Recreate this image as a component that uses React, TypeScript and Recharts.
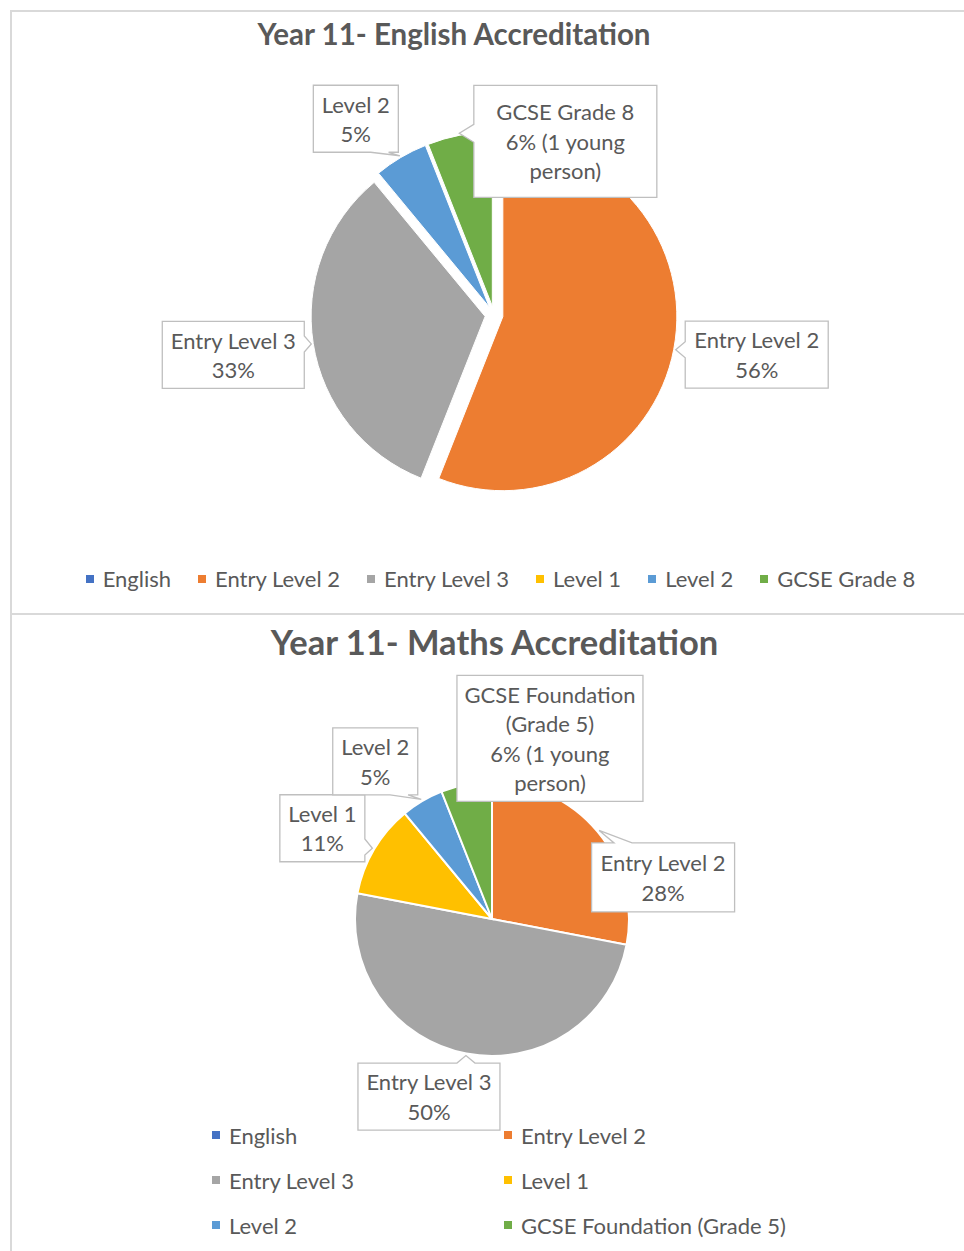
import React from 'react';
import { PieChart, Pie, Cell, Legend } from 'recharts';

// Office default palette, keyed by category
const COLORS: Record<string, string> = {
  English: '#4472C4',
  'Entry Level 2': '#ED7D31',
  'Entry Level 3': '#A5A5A5',
  'Level 1': '#FFC000',
  'Level 2': '#5B9BD5',
  'GCSE Grade 8': '#70AD47',
  'GCSE Foundation (Grade 5)': '#70AD47',
};

const FONT = 'Lato, Carlito, Calibri, "Noto Sans", sans-serif';
const TEXT = '#595959';

// --- English chart data
const ENGLISH_CATEGORIES = ['English', 'Entry Level 2', 'Entry Level 3', 'Level 1', 'Level 2', 'GCSE Grade 8'];
const ENGLISH_VALUES = [0, 56, 33, 0, 5, 6];
const ENGLISH_NOTES = ['', '', '', '', '', '(1 young person)'];

// --- Maths chart data
const MATHS_CATEGORIES = ['English', 'Entry Level 2', 'Entry Level 3', 'Level 1', 'Level 2', 'GCSE Foundation (Grade 5)'];
const MATHS_VALUES = [0, 28, 50, 11, 5, 6];
const MATHS_NOTES = ['', '', '', '', '', '(1 young person)'];

// callout boxes: centre offset from the slice edge point, box size
type Box = { dx: number; dy: number; w: number; h: number };
const ENGLISH_BOXES: Record<string, Box> = {
  'Entry Level 2': { dx: 81, dy: 5, w: 143, h: 67 },
  'Entry Level 3': { dx: -78, dy: 11, w: 142, h: 67 },
  'Level 2': { dx: -44, dy: -37, w: 85, h: 67 },
  'GCSE Grade 8': { dx: 106, dy: 8, w: 183, h: 112 },
};
const MATHS_BOXES: Record<string, Box> = {
  'Entry Level 2': { dx: 64, dy: 47, w: 143, h: 69 },
  'Entry Level 3': { dx: -37, dy: 41, w: 142, h: 67 },
  'Level 1': { dx: -50, dy: -20, w: 85, h: 67 },
  'Level 2': { dx: -46, dy: -38, w: 85, h: 67 },
  'GCSE Foundation (Grade 5)': { dx: 84, dy: -44, w: 186, h: 126 },
};

const RAD = Math.PI / 180;

const buildData = (cats: string[], vals: number[], notes: string[]) =>
  cats.map((name, i) => ({ name, value: vals[i], note: notes[i] }));

// mid angle of each slice, same convention as recharts (start 90, clockwise)
const midAngles = (vals: number[]) => {
  const total = vals.reduce((a, b) => a + b, 0);
  let cum = 0;
  return vals.map((v) => {
    const m = 90 - (360 * (cum + v / 2)) / total;
    cum += v;
    return m;
  });
};

const wrap = (text: string, maxChars: number) => {
  const words = text.split(' ');
  const lines: string[] = [];
  let cur = '';
  words.forEach((w) => {
    const next = cur ? cur + ' ' + w : w;
    if (next.length > maxChars && cur) {
      lines.push(cur);
      cur = w;
    } else cur = next;
  });
  if (cur) lines.push(cur);
  return lines;
};

const calloutPath = (x: number, y: number, w: number, h: number, tx: number, ty: number) => {
  const inside = tx >= x && tx <= x + w && ty >= y && ty <= y + h;
  if (inside) return `M${x},${y}H${x + w}V${y + h}H${x}Z`;
  const over = {
    left: x - tx,
    right: tx - (x + w),
    top: y - ty,
    bottom: ty - (y + h),
  };
  const side = (Object.keys(over) as (keyof typeof over)[]).reduce((a, b) => (over[b] > over[a] ? b : a));
  const horiz = side === 'top' || side === 'bottom';
  const len = horiz ? w : h;
  const start = horiz ? x : y;
  const t = horiz ? tx : ty;
  const c = Math.max(start + 0.22 * len, Math.min(start + len - 0.22 * len, t));
  const hw = Math.min(9, 0.12 * len);
  const b0 = c - hw;
  const b1 = c + hw;
  let d = `M${x},${y}`;
  if (side === 'top') d += `L${b0},${y}L${tx},${ty}L${b1},${y}`;
  d += `L${x + w},${y}`;
  if (side === 'right') d += `L${x + w},${b0}L${tx},${ty}L${x + w},${b1}`;
  d += `L${x + w},${y + h}`;
  if (side === 'bottom') d += `L${b1},${y + h}L${tx},${ty}L${b0},${y + h}`;
  d += `L${x},${y + h}`;
  if (side === 'left') d += `L${x},${b1}L${tx},${ty}L${x},${b0}`;
  return d + 'Z';
};

const makeLabel = (boxes: Record<string, Box>, explode: number) => (props: any) => {
  const { cx, cy, midAngle, outerRadius, percent, name, value, payload } = props;
  const box = boxes[name];
  if (!value || !box) return null;
  const dist = explode + outerRadius + 2;
  const ax = cx + dist * Math.cos(-midAngle * RAD);
  const ay = cy + dist * Math.sin(-midAngle * RAD);
  const bx = ax + box.dx - box.w / 2;
  const by = ay + box.dy - box.h / 2;
  const maxChars = Math.floor(box.w / 10);
  const pct = `${Math.round(percent * 100)}%`;
  const note = payload?.note || '';
  const lines = [...wrap(name, maxChars), ...wrap(note ? `${pct} ${note}` : pct, maxChars)];
  const lh = 29.5;
  const top = ay + box.dy - ((lines.length - 1) * lh) / 2;
  return (
    <g>
      <path d={calloutPath(bx, by, box.w, box.h, ax, ay)} fill="#fff" stroke="#BFBFBF" strokeWidth={1.3} />
      {lines.map((l, i) => (
        <text
          key={i}
          x={ax + box.dx}
          y={top + i * lh}
          textAnchor="middle"
          dominantBaseline="central"
          fontFamily={FONT}
          fontSize={22}
          fill={TEXT}
        >
          {l}
        </text>
      ))}
    </g>
  );
};

// keep legend entries in data order (recharts sorts them by name otherwise)
const ordered = (payload: any[] = [], cats: string[]) =>
  [...payload].sort((a, b) => cats.indexOf(a.value) - cats.indexOf(b.value));

const RowLegend = ({ payload, cats }: any) => (
  <div style={{ display: 'flex', justifyContent: 'center', fontFamily: FONT, fontSize: 22, color: TEXT }}>
    {ordered(payload, cats).map((p: any) => (
      <div key={p.value} style={{ display: 'flex', alignItems: 'center', margin: '0 13.5px' }}>
        <span style={{ width: 8, height: 8, background: COLORS[p.value] || p.color, marginRight: 9 }} />
        <span>{p.value}</span>
      </div>
    ))}
  </div>
);

const GridLegend = ({ payload, cats }: any) => (
  <div style={{ display: 'grid', gridTemplateColumns: '292px 292px', rowGap: 17, fontFamily: FONT, fontSize: 22, color: TEXT }}>
    {ordered(payload, cats).map((p: any) => (
      <div key={p.value} style={{ display: 'flex', alignItems: 'center', height: 28 }}>
        <span style={{ width: 8, height: 8, background: COLORS[p.value] || p.color, marginRight: 9 }} />
        <span>{p.value}</span>
      </div>
    ))}
  </div>
);

const englishData = buildData(ENGLISH_CATEGORIES, ENGLISH_VALUES, ENGLISH_NOTES);
const mathsData = buildData(MATHS_CATEGORIES, MATHS_VALUES, MATHS_NOTES);
const englishMids = midAngles(ENGLISH_VALUES);
const EXPLODE = 9;

const App: React.FC = () => {
  return (
    <div style={{ position: 'absolute', left: 0, top: 0, width: 964, height: 1251, background: '#fff', overflow: 'hidden' }}>
      {/* chart frames */}
      <div style={{ position: 'absolute', left: 10, top: 10, width: 960, height: 601, borderTop: '2px solid #D9D9D9', borderLeft: '2px solid #D9D9D9', borderBottom: '2px solid #D9D9D9' }} />
      <div style={{ position: 'absolute', left: 10, top: 612, width: 960, height: 650, borderLeft: '2px solid #D9D9D9' }} />

      <div style={{ position: 'absolute', left: 0, top: 16, width: 908, textAlign: 'center', fontFamily: FONT, fontWeight: 700, fontSize: 29.5, color: TEXT }}>
        Year 11- English Accreditation
      </div>
      <div style={{ position: 'absolute', left: 0, top: 621, width: 989, textAlign: 'center', fontFamily: FONT, fontWeight: 700, fontSize: 34.5, color: TEXT }}>
        Year 11- Maths Accreditation
      </div>

      <div style={{ position: 'absolute', left: 0, top: 0 }}>
        <PieChart width={964} height={612} margin={{ top: 0, right: 0, bottom: 0, left: 0 }}>
          <Pie
            data={englishData}
            dataKey="value"
            nameKey="name"
            cx={494}
            cy={315}
            outerRadius={174}
            startAngle={90}
            endAngle={-270}
            stroke="#fff"
            strokeWidth={1}
            labelLine={false}
            label={makeLabel(ENGLISH_BOXES, EXPLODE)}
            isAnimationActive={false}
          >
            {englishData.map((d, i) => {
              const m = englishMids[i] * RAD;
              const dx = EXPLODE * Math.cos(m);
              const dy = -EXPLODE * Math.sin(m);
              return <Cell key={d.name} fill={COLORS[d.name]} transform={`translate(${dx},${dy})`} />;
            })}
          </Pie>
          <Legend
            verticalAlign="bottom"
            content={<RowLegend cats={ENGLISH_CATEGORIES} />}
            wrapperStyle={{ top: 565, bottom: 'auto', left: 37, width: 927 }}
          />
        </PieChart>
      </div>

      <div style={{ position: 'absolute', left: 0, top: 612 }}>
        <PieChart width={964} height={639} margin={{ top: 0, right: 0, bottom: 0, left: 0 }}>
          <Pie
            data={mathsData}
            dataKey="value"
            nameKey="name"
            cx={492}
            cy={307}
            outerRadius={137}
            startAngle={90}
            endAngle={-270}
            stroke="#fff"
            strokeWidth={2}
            labelLine={false}
            label={makeLabel(MATHS_BOXES, 0)}
            isAnimationActive={false}
          >
            {mathsData.map((d) => (
              <Cell key={d.name} fill={COLORS[d.name]} />
            ))}
          </Pie>
          <Legend
            verticalAlign="bottom"
            content={<GridLegend cats={MATHS_CATEGORIES} />}
            wrapperStyle={{ top: 509, bottom: 'auto', left: 212, width: 600 }}
          />
        </PieChart>
      </div>
    </div>
  );
};

export default App;
